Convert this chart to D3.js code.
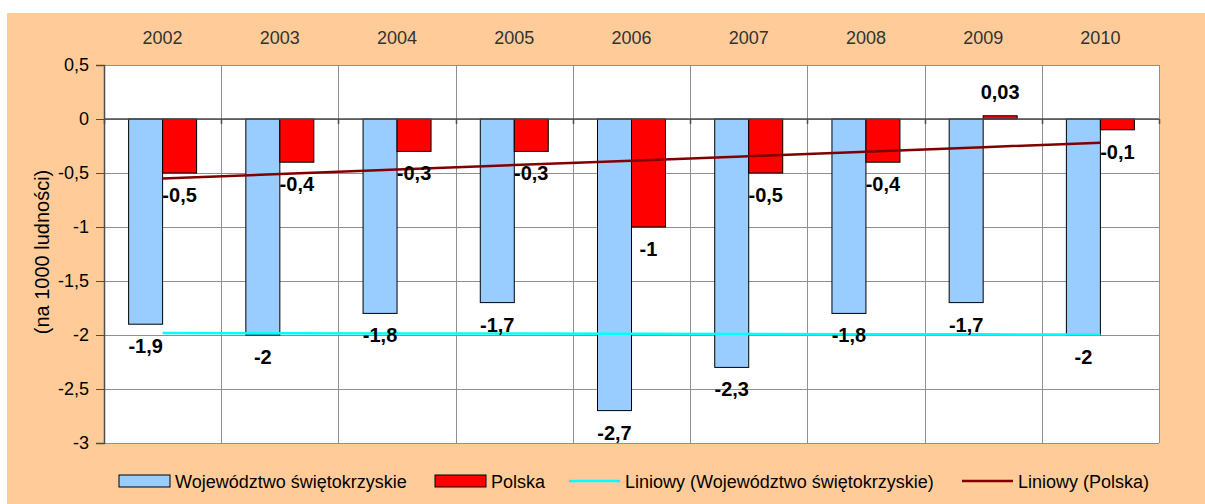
<!DOCTYPE html>
<html>
<head>
<meta charset="utf-8">
<title>Przyrost naturalny</title>
<script src="https://d3js.org/d3.v7.min.js"></script>
<style>
  body { margin: 0; background: #fff; }
  text { font-family: "Liberation Sans", Arial, sans-serif; }
</style>
</head>
<body>
<script>
// data
var years = ["2002", "2003", "2004", "2005", "2006", "2007", "2008", "2009", "2010"];
var swietokrzyskie = [-1.9, -2, -1.8, -1.7, -2.7, -2.3, -1.8, -1.7, -2];
var polska = [-0.5, -0.4, -0.3, -0.3, -1, -0.5, -0.4, 0.03, -0.1];
var yTicks = [0.5, 0, -0.5, -1, -1.5, -2, -2.5, -3];
var seriesNames = ["Województwo świętokrzyskie", "Polska"];
var trendNames = ["Liniowy (Województwo świętokrzyskie)", "Liniowy (Polska)"];

var W = 1205, H = 504;
var plot = { left: 104, right: 1159, top: 65, bottom: 443 };

var svg = d3.select("body").append("svg")
    .attr("width", W)
    .attr("height", H);

// orange chart background
svg.append("rect")
    .attr("x", 7).attr("y", 13)
    .attr("width", W - 7).attr("height", H - 13)
    .attr("fill", "#FFCC99");

svg.append("rect")
    .attr("x", plot.left).attr("y", plot.top)
    .attr("width", plot.right - plot.left).attr("height", plot.bottom - plot.top)
    .attr("fill", "#fff");

var x = d3.scaleBand().domain(years).range([plot.left, plot.right]).padding(0);
var bw = x.bandwidth();
var barW = bw * 0.29;
var x1 = d3.scaleBand().domain([0, 1]).range([(bw - 2 * barW) / 2, (bw + 2 * barW) / 2]);
var y = d3.scaleLinear().domain([-3, 0.5]).range([plot.bottom, plot.top]);

var fmt = function(v) { return String(v).replace(".", ","); };

// horizontal gridlines
svg.append("g").selectAll("line").data(yTicks).enter().append("line")
    .attr("x1", plot.left).attr("x2", plot.right)
    .attr("y1", function(d) { return Math.round(y(d)) + 0.5; })
    .attr("y2", function(d) { return Math.round(y(d)) + 0.5; })
    .attr("stroke", "#8f8f8f").attr("stroke-width", 1);

// vertical gridlines at category boundaries
var bounds = years.map(function(d) { return x(d); }).concat([plot.right]);
svg.append("g").selectAll("line").data(bounds).enter().append("line")
    .attr("x1", function(d) { return Math.round(d) + 0.5; })
    .attr("x2", function(d) { return Math.round(d) + 0.5; })
    .attr("y1", plot.top).attr("y2", plot.bottom)
    .attr("stroke", "#8f8f8f").attr("stroke-width", 1);

// bars
var series = [swietokrzyskie, polska];
var fills = ["#99CCFF", "#FF0000"];
series.forEach(function(vals, s) {
    svg.append("g").selectAll("rect").data(vals).enter().append("rect")
        .attr("x", function(d, i) { return x(years[i]) + x1(s); })
        .attr("width", x1.bandwidth())
        .attr("y", function(d) { return y(Math.max(0, d)); })
        .attr("height", function(d) { return Math.abs(y(d) - y(0)); })
        .attr("fill", fills[s])
        .attr("stroke", "#000").attr("stroke-width", 1);
});

// y axis
var yAxis = d3.axisLeft(y).tickValues(yTicks).tickSize(8).tickFormat(fmt);
var ga = svg.append("g").attr("transform", "translate(" + plot.left + ",0)").call(yAxis);
ga.select(".domain").attr("stroke", "#4d4d4d").attr("stroke-width", 1.5);
ga.selectAll(".tick line").attr("stroke", "#4d4d4d");
ga.selectAll(".tick text").attr("font-size", 18).attr("fill", "#000")
    .attr("font-family", "Liberation Sans, Arial, sans-serif").attr("x", -15);

// zero line with category ticks
svg.append("line")
    .attr("x1", plot.left).attr("x2", plot.right)
    .attr("y1", y(0)).attr("y2", y(0))
    .attr("stroke", "#4d4d4d").attr("stroke-width", 1.5);
svg.append("g").selectAll("line").data(bounds).enter().append("line")
    .attr("x1", function(d) { return Math.round(d) + 0.5; })
    .attr("x2", function(d) { return Math.round(d) + 0.5; })
    .attr("y1", y(0)).attr("y2", y(0) + 5)
    .attr("stroke", "#4d4d4d").attr("stroke-width", 1.5);

// category labels on top
svg.append("g").selectAll("text").data(years).enter().append("text")
    .attr("x", function(d) { return x(d) + bw / 2; })
    .attr("y", 44)
    .attr("text-anchor", "middle")
    .attr("font-size", 18).attr("fill", "#333")
    .text(function(d) { return d; });

// linear trend lines
function trend(vals) {
    var n = vals.length, mx = (n + 1) / 2, my = d3.mean(vals), sxy = 0, sxx = 0;
    vals.forEach(function(v, i) { sxy += (i + 1 - mx) * (v - my); sxx += (i + 1 - mx) * (i + 1 - mx); });
    var b = sxy / sxx;
    return vals.map(function(v, i) { return my + b * (i + 1 - mx); });
}
var trendColors = ["#00FFFF", "#800000"];
var line = d3.line()
    .x(function(d, i) { return x(years[i]) + bw / 2; })
    .y(function(d) { return y(d); });
series.forEach(function(vals, s) {
    svg.append("path").datum(trend(vals))
        .attr("d", line)
        .attr("fill", "none")
        .attr("stroke", trendColors[s]).attr("stroke-width", 2.5);
});

// data labels
series.forEach(function(vals, s) {
    svg.append("g").selectAll("text").data(vals).enter().append("text")
        .attr("x", function(d, i) { return x(years[i]) + x1(s) + x1.bandwidth() / 2; })
        .attr("y", function(d) { return d < 0 ? y(d) + 29 : y(d) - 17; })
        .attr("text-anchor", "middle")
        .attr("font-size", 20).attr("font-weight", "bold").attr("fill", "#000")
        .text(fmt);
});

// y axis title
svg.append("text")
    .attr("transform", "translate(49,252) rotate(-90)")
    .attr("text-anchor", "middle")
    .attr("font-size", 20).attr("fill", "#000")
    .text("(na 1000 ludności)");

// legend
var leg = svg.append("g").attr("font-size", 18);
var legY = 481;
var items = [
    { x: 119, type: "rect", color: fills[0], label: seriesNames[0] },
    { x: 435, type: "rect", color: fills[1], label: seriesNames[1] },
    { x: 569, type: "line", color: trendColors[0], label: trendNames[0] },
    { x: 962, type: "line", color: trendColors[1], label: trendNames[1] }
];
items.forEach(function(it) {
    if (it.type == "rect") {
        leg.append("rect").attr("x", it.x).attr("y", legY - 6)
            .attr("width", 51).attr("height", 12)
            .attr("fill", it.color).attr("stroke", "#000").attr("stroke-width", 1);
    } else {
        leg.append("line").attr("x1", it.x).attr("x2", it.x + 51)
            .attr("y1", legY).attr("y2", legY)
            .attr("stroke", it.color).attr("stroke-width", 2.5);
    }
    leg.append("text").attr("x", it.x + 56).attr("y", legY + 6.5)
        .attr("fill", "#000").text(it.label);
});
</script>
</body>
</html>
